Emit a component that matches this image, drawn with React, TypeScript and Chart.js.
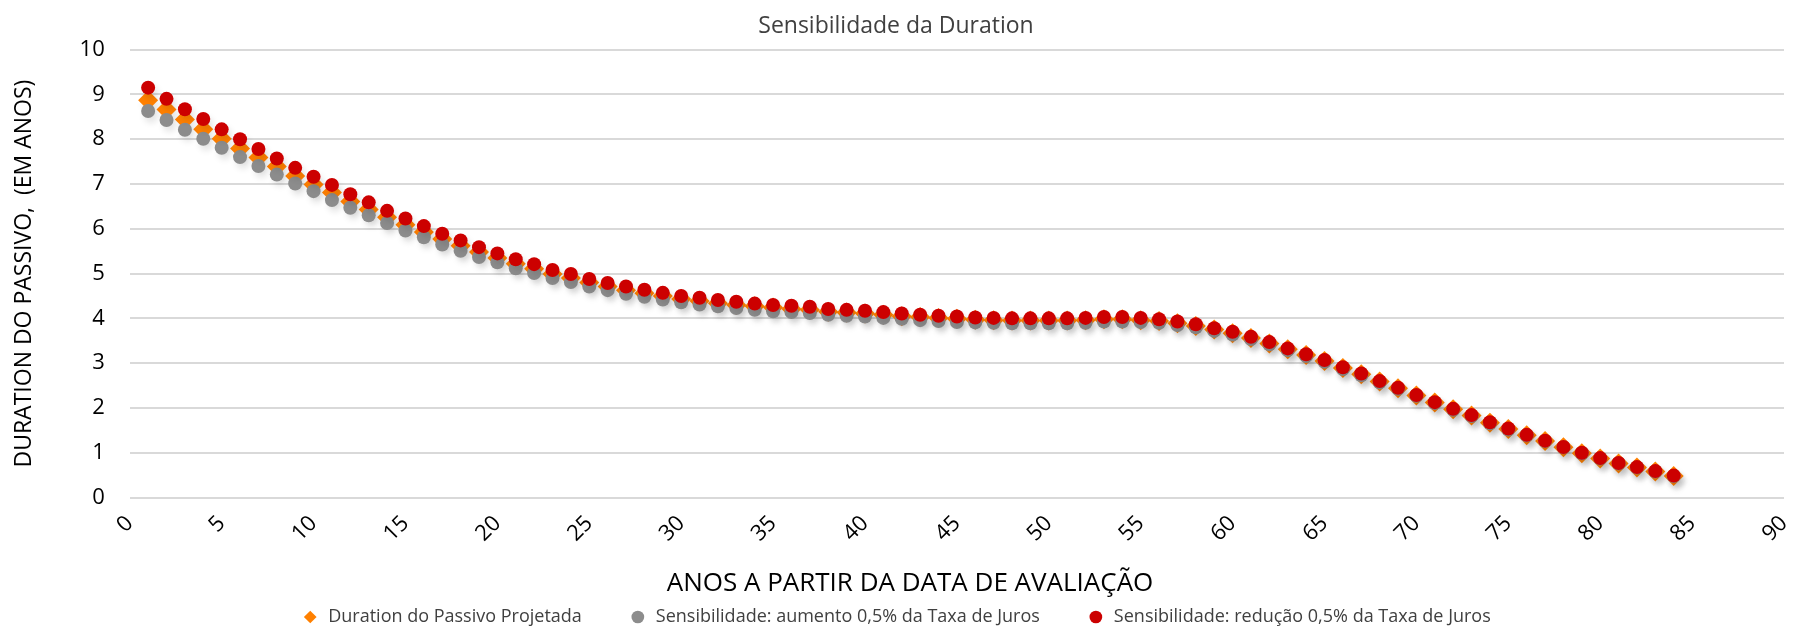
import React, { useEffect, useRef } from "react";
import { Chart, registerables } from "chart.js";

Chart.register(...registerables);

const FONT = "'Open Sans', sans-serif";

const chartTitle = "Sensibilidade da Duration";
const xAxisTitle = "ANOS A PARTIR DA DATA DE AVALIAÇÃO";
const yAxisTitle = "DURATION DO PASSIVO,  (EM ANOS)";

const seriesLabels = [
  "Duration do Passivo Projetada",
  "Sensibilidade: aumento 0,5% da Taxa de Juros",
  "Sensibilidade: redução 0,5% da Taxa de Juros",
];

const anos = [
  1, 2, 3, 4, 5, 6, 7, 8, 9, 10, 11, 12, 13, 14, 15, 16, 17, 18, 19, 20,
  21, 22, 23, 24, 25, 26, 27, 28, 29, 30, 31, 32, 33, 34, 35, 36, 37, 38, 39, 40,
  41, 42, 43, 44, 45, 46, 47, 48, 49, 50, 51, 52, 53, 54, 55, 56, 57, 58, 59, 60,
  61, 62, 63, 64, 65, 66, 67, 68, 69, 70, 71, 72, 73, 74, 75, 76, 77, 78, 79, 80,
  81, 82, 83, 84,
];

const durationProjetada = [
  8.87, 8.66, 8.44, 8.22, 8.01, 7.79, 7.59, 7.39, 7.18, 6.99,
  6.81, 6.61, 6.43, 6.26, 6.09, 5.93, 5.77, 5.62, 5.48, 5.35,
  5.22, 5.11, 4.99, 4.9, 4.8, 4.71, 4.63, 4.56, 4.5, 4.43,
  4.39, 4.34, 4.3, 4.27, 4.24, 4.21, 4.19, 4.15, 4.13, 4.11,
  4.08, 4.05, 4.03, 4.01, 3.99, 3.97, 3.96, 3.95, 3.95, 3.95,
  3.95, 3.96, 3.98, 3.98, 3.96, 3.94, 3.89, 3.83, 3.75, 3.67,
  3.56, 3.44, 3.31, 3.18, 3.05, 2.89, 2.75, 2.59, 2.44, 2.28,
  2.12, 1.97, 1.83, 1.67, 1.53, 1.39, 1.26, 1.12, 0.99, 0.87,
  0.76, 0.67, 0.58, 0.48,
];

const sensAumento = [
  8.63, 8.43, 8.21, 8.01, 7.81, 7.6, 7.4, 7.21, 7.01, 6.84,
  6.64, 6.47, 6.3, 6.13, 5.96, 5.81, 5.65, 5.51, 5.37, 5.25,
  5.12, 5.01, 4.9, 4.81, 4.71, 4.63, 4.55, 4.48, 4.42, 4.36,
  4.31, 4.27, 4.23, 4.19, 4.16, 4.14, 4.12, 4.08, 4.06, 4.04,
  4.01, 3.99, 3.96, 3.94, 3.92, 3.91, 3.9, 3.89, 3.89, 3.89,
  3.89, 3.9, 3.93, 3.93, 3.92, 3.9, 3.85, 3.8, 3.72, 3.64,
  3.54, 3.42, 3.29, 3.16, 3.03, 2.87, 2.73, 2.57, 2.43, 2.27,
  2.11, 1.96, 1.82, 1.66, 1.52, 1.39, 1.26, 1.12, 0.99, 0.87,
  0.76, 0.67, 0.58, 0.48,
];

const sensReducao = [
  9.15, 8.9, 8.67, 8.45, 8.22, 8.0, 7.78, 7.57, 7.36, 7.16,
  6.98, 6.77, 6.59, 6.4, 6.23, 6.06, 5.89, 5.74, 5.59, 5.45,
  5.32, 5.21, 5.08, 4.99, 4.88, 4.79, 4.71, 4.64, 4.57, 4.5,
  4.46, 4.41, 4.37, 4.33, 4.3, 4.28, 4.26, 4.21, 4.19, 4.17,
  4.14, 4.11, 4.08, 4.06, 4.04, 4.02, 4.01, 4.0, 4.0, 4.0,
  4.0, 4.01, 4.03, 4.03, 4.01, 3.98, 3.93, 3.87, 3.78, 3.7,
  3.59, 3.47, 3.33, 3.2, 3.07, 2.91, 2.77, 2.6, 2.45, 2.29,
  2.13, 1.98, 1.84, 1.68, 1.54, 1.4, 1.27, 1.13, 1.0, 0.88,
  0.77, 0.68, 0.59, 0.49,
];

const toPoints = (values: number[]) =>
  anos.map((ano, i) => ({ x: ano, y: values[i] }));

export default function App() {
  const canvasRef = useRef<HTMLCanvasElement | null>(null);

  useEffect(() => {
    document.body.style.margin = "0";
    const canvas = canvasRef.current;
    if (!canvas) return;

    Chart.defaults.font.family = FONT;

    const shadowPlugin = {
      id: "markerShadow",
      beforeDatasetsDraw(chart: any) {
        const c = chart.ctx;
        c.save();
        c.shadowColor = "rgba(0,0,0,0.10)";
        c.shadowBlur = 6;
        c.shadowOffsetX = 3;
        c.shadowOffsetY = 5;
      },
      afterDatasetsDraw(chart: any) {
        chart.ctx.restore();
      },
    };

    // x-axis title, drawn slightly left of the plot centre as in the source
    const xTitlePlugin = {
      id: "xAxisTitle",
      afterDraw(chart: any) {
        const c = chart.ctx;
        const xs = chart.scales.x;
        c.save();
        c.font = `normal 26px ${FONT}`;
        c.fillStyle = "#000000";
        c.textAlign = "center";
        c.textBaseline = "middle";
        c.fillText(xAxisTitle, chart.width / 2 + 13, xs.bottom + 23);
        c.restore();
      },
    };

    const chart = new Chart(canvas, {
      type: "scatter",
      data: {
        datasets: [
          {
            label: seriesLabels[0],
            data: toPoints(durationProjetada),
            pointStyle: "rectRot",
            pointRadius: 10,
            pointHoverRadius: 10,
            backgroundColor: "#FF8000",
            borderColor: "#FF8000",
            borderWidth: 0,
            order: 3,
          },
          {
            label: seriesLabels[1],
            data: toPoints(sensAumento),
            pointStyle: "circle",
            pointRadius: 7,
            pointHoverRadius: 7,
            backgroundColor: "#8C8C8C",
            borderColor: "#8C8C8C",
            borderWidth: 0,
            order: 2,
          },
          {
            label: seriesLabels[2],
            data: toPoints(sensReducao),
            pointStyle: "circle",
            pointRadius: 7,
            pointHoverRadius: 7,
            backgroundColor: "#CC0000",
            borderColor: "#CC0000",
            borderWidth: 0,
            order: 1,
          },
        ],
      },
      options: {
        animation: false,
        responsive: false,
        layout: { padding: { left: 4, right: 6, top: 4, bottom: -9 } },
        plugins: {
          title: {
            display: true,
            text: chartTitle,
            color: "#404040",
            font: { family: FONT, size: 23, weight: "normal" },
            padding: { top: 9, bottom: 9 },
          },
          legend: {
            position: "bottom",
            labels: {
              usePointStyle: true,
              boxWidth: 18,
              boxHeight: 9,
              padding: 47,
              color: "#404040",
              font: { family: FONT, size: 18 },
              sort: (a: any, b: any) => a.datasetIndex - b.datasetIndex,
            },
          },
          tooltip: { enabled: false },
        },
        scales: {
          x: {
            type: "linear",
            min: 0,
            max: 90,
            afterFit: (scale: any) => {
              scale.height += 1;
              scale.paddingRight = 0;
            },
            ticks: {
              stepSize: 5,
              minRotation: 45,
              maxRotation: 45,
              color: "#000000",
              font: { family: FONT, size: 22 },
              padding: 13,
            },
            grid: { display: false, drawTicks: false },
            border: { display: false },
            title: { display: false },
          },
          y: {
            min: 0,
            max: 10,
            ticks: {
              stepSize: 1,
              color: "#000000",
              font: { family: FONT, size: 22 },
              padding: 25,
            },
            grid: { color: "#D9D9D9", lineWidth: 2, drawTicks: false },
            border: { display: false },
            title: {
              display: true,
              text: yAxisTitle,
              color: "#000000",
              font: { family: FONT, size: 23 },
              padding: { top: 7, bottom: 16 },
            },
          },
        },
      },
      plugins: [shadowPlugin, xTitlePlugin],
    } as any);

    return () => chart.destroy();
  }, []);

  return (
    <div style={{ width: 1794, height: 627 }}>
      <canvas
        ref={canvasRef}
        width={1794}
        height={627}
        style={{ display: "block", width: 1794, height: 627 }}
      />
    </div>
  );
}
